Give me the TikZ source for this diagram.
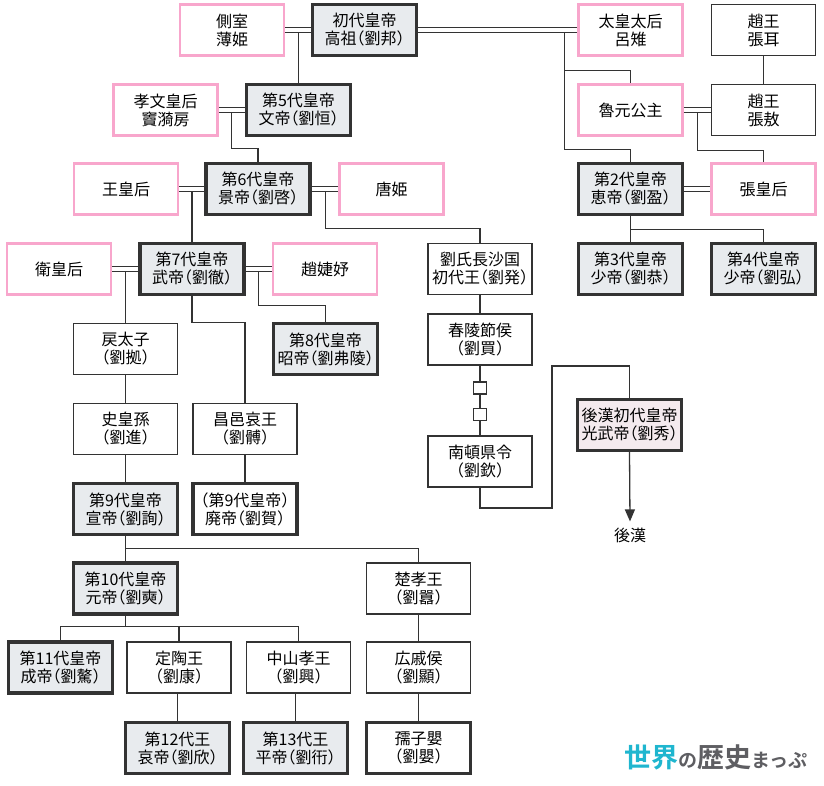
\documentclass[tikz,border=0pt]{standalone}
\usepackage{fontspec}
\setmainfont{Noto Sans CJK JP}[RawFeature={+halt}, BoldFont={Noto Sans CJK JP Bold}]
\usetikzlibrary{arrows.meta,calc}

\definecolor{linegray}{HTML}{333333}
\definecolor{consortpink}{HTML}{F8A6CC}
\definecolor{empgray}{HTML}{E8EBEE}
\definecolor{hanfill}{HTML}{F4EAEE}
\definecolor{logocyan}{HTML}{1FB6CF}
\definecolor{logogray}{HTML}{5E5E62}

\tikzset{
	person/.style={draw=linegray, line width=1.6pt, minimum width=104pt, minimum height=51pt, inner sep=0pt, align=center, font=\fontsize{16}{18}\selectfont},
	consort/.style={person, draw=consortpink, line width=2.6pt},
	emperor/.style={person, line width=3.4pt, fill=empgray},
	deposed/.style={person, line width=3.4pt},
	hanlater/.style={emperor, fill=hanfill},
	gapbox/.style={draw=linegray, line width=1.3pt, minimum width=13pt, minimum height=12pt, inner sep=0pt},
	link/.style={draw=linegray, line width=1.3pt}
}

\begin{document}
\begin{tikzpicture}[x=1pt,y=-1pt]
	\useasboundingbox (0,0) rectangle (824,785);
	
	%1st Row
	\node[consort] (sokushitsu) at (232,30) {側室\\薄姫};
	\node[emperor] (gaoz) at (364.5,30) {初代皇帝\\高祖（劉邦）};
	\node[consort] (lvzhi) at (630.5,30) {太皇太后\\呂雉};
	\node[person] (zhanger) at (763.5,30) {趙王\\張耳};
	
	%2nd Row
	\node[consort] (dou) at (165.5,110) {孝文皇后\\竇漪房};
	\node[emperor] (wendi) at (298.5,110) {第5代皇帝\\文帝（劉恒）};
	\node[consort] (luyuan) at (630.5,110) {魯元公主};
	\node[person] (zhangao) at (763.5,110) {趙王\\張敖};
	
	%3rd Row
	\node[consort] (wang) at (126,189) {王皇后};
	\node[emperor] (jingdi) at (258,189) {第6代皇帝\\景帝（劉啓）};
	\node[consort] (tang) at (391.5,189) {唐姫};
	\node[emperor] (huidi) at (630.5,189) {第2代皇帝\\恵帝（劉盈）};
	\node[consort] (zhanghou) at (763.5,189) {張皇后};
	
	%4th Row
	\node[consort] (wei) at (59,269) {衛皇后};
	\node[emperor] (wudi) at (192,269) {第7代皇帝\\武帝（劉徹）};
	\node[consort] (zhao) at (325,269) {趙婕妤};
	\node[person] (liufa) at (480,269) {劉氏長沙国\\初代王（劉発）};
	\node[emperor] (shaodi3) at (630.5,269) {第3代皇帝\\少帝（劉恭）};
	\node[emperor] (shaodi4) at (763.5,269) {第4代皇帝\\少帝（劉弘）};
	
	%5th Row
	\node[person] (lizi) at (125.5,349) {戻太子\\（劉拠）};
	\node[emperor] (zhaodi) at (325.5,349) {第8代皇帝\\昭帝（劉弗陵）};
	\node[person] (liumai) at (480,339.5) {春陵節侯\\（劉買）};
	\node[gapbox] (sq1) at (480,388) {};
	\node[gapbox] (sq2) at (480,414.5) {};
	\node[hanlater] (guangwu) at (629.5,425) {後漢初代皇帝\\光武帝（劉秀）};
	
	%6th Row
	\node[person] (shihuang) at (125.5,429) {史皇孫\\（劉進）};
	\node[person] (changyi) at (245,429) {昌邑哀王\\（劉髆）};
	\node[person] (liuqin) at (480,461.5) {南頓県令\\（劉欽）};
	\node[font=\fontsize{16}{18}\selectfont, inner sep=1pt] (houhan) at (630,535) {後漢};
	
	%7th Row
	\node[emperor] (xuandi) at (125.5,509) {第9代皇帝\\宣帝（劉詢）};
	\node[deposed] (feidi) at (245,509) {（第9代皇帝）\\廃帝（劉賀）};
	
	%8th Row
	\node[emperor] (yuandi) at (125.5,588.5) {第10代皇帝\\元帝（劉奭）};
	\node[person] (chuxiao) at (418.5,588.5) {楚孝王\\（劉囂）};
	
	%9th Row
	\node[emperor] (chengdi) at (60.5,667.5) {第11代皇帝\\成帝（劉驁）};
	\node[person] (dingtao) at (179,667.5) {定陶王\\（劉康）};
	\node[person] (zhongshan) at (298.5,667.5) {中山孝王\\（劉興）};
	\node[person] (guangqi) at (418.5,667.5) {広戚侯\\（劉顯）};
	
	%Bottom Row
	\node[emperor] (aidi) at (177.5,748) {第12代王\\哀帝（劉欣）};
	\node[emperor] (pingdi) at (295.5,748) {第13代王\\平帝（劉衎）};
	\node[deposed] (ruzi) at (418.5,748) {孺子嬰\\（劉嬰）};
	
	%Marriages (double lines)
	\foreach \a/\b in {sokushitsu/gaoz, gaoz/lvzhi, dou/wendi, luyuan/zhangao, wang/jingdi, jingdi/tang, huidi/zhanghou, wei/wudi, wudi/zhao}{
		\draw[link] ([yshift=2.5pt]\a.east) -- ([yshift=2.5pt]\b.west);
		\draw[link] ([yshift=-2.5pt]\a.east) -- ([yshift=-2.5pt]\b.west);
		\coordinate (m\b) at ([yshift=-2.5pt]\b.west);
	}
	
	%Children of marriages
	\draw[link] (wendi.north) -- (wendi.north |- mgaoz);
	\draw[link] ([xshift=-13pt]mlvzhi) |- ([yshift=13pt]luyuan.north) -- (luyuan.north);
	\draw[link] ([xshift=-13pt]mlvzhi) |- ([yshift=12pt]huidi.north) -- (huidi.north);
	\draw[link] ([xshift=-13pt]mwendi) |- ([yshift=13pt]jingdi.north) -- (jingdi.north);
	\draw[link] ([xshift=-13pt]mzhangao) |- ([yshift=12pt]zhanghou.north) -- (zhanghou.north);
	\draw[link] (wudi.north) -- (wudi.north |- mjingdi);
	\draw[link] ([xshift=-13pt]mtang) |- ([yshift=14pt]liufa.north) -- (liufa.north);
	\draw[link] (lizi.north) -- (lizi.north |- mwudi);
	\draw[link] ([xshift=-13pt]mzhao) |- ([yshift=16pt]zhaodi.north) -- (zhaodi.north);
	
	%Straight lines of descent
	\foreach \p/\c in {zhanger/zhangao, lizi/shihuang, shihuang/xuandi, changyi/feidi, chuxiao/guangqi, guangqi/ruzi, liufa/liumai, liumai/sq1, sq1/sq2, sq2/liuqin}
	\draw[link] (\p.south) -- (\c.north);
	\draw[link] (aidi.north) -- (aidi.north |- dingtao.south);
	\draw[link] (pingdi.north) -- (pingdi.north |- zhongshan.south);
	
	%Branching lines
	\draw[link] (huidi.south) -- (shaodi3.north);
	\draw[link] (huidi.south) -- ++(0,13) -| (shaodi4.north);
	\draw[link] (wudi.south) -- (wudi.south |- lizi.north) -| (changyi.north);
	\draw[link] (xuandi.south) -- (yuandi.north);
	\draw[link] (xuandi.south) -- ++(0,12) -| (chuxiao.north);
	\draw[link] (yuandi.south) -- ++(0,11) coordinate (ybus);
	\foreach \c in {chengdi, dingtao, zhongshan}
	\draw[link] (ybus) -| (\c.north);
	
	%Line to Later Han
	\coordinate (turnA) at (552,508);
	\coordinate (turnB) at (552,366);
	\draw[link] (liuqin.south) |- (turnA) -- (turnB) -| (guangwu.north);
	\draw[link, -{Triangle[width=10pt,length=12pt]}] (guangwu.south) -- ([yshift=5pt]houhan.north);
	
	%Logo
	\node[inner sep=0pt, anchor=west] (logo) at (624,757) {\bfseries{\fontsize{27}{27}\selectfont\color{logocyan}世界}{\fontsize{19}{19}\selectfont\color{logogray}の}{\fontsize{27}{27}\selectfont\color{logogray}歴史}{\fontsize{19}{19}\selectfont\color{logogray}まっぷ}};
	
\end{tikzpicture}
\end{document}
